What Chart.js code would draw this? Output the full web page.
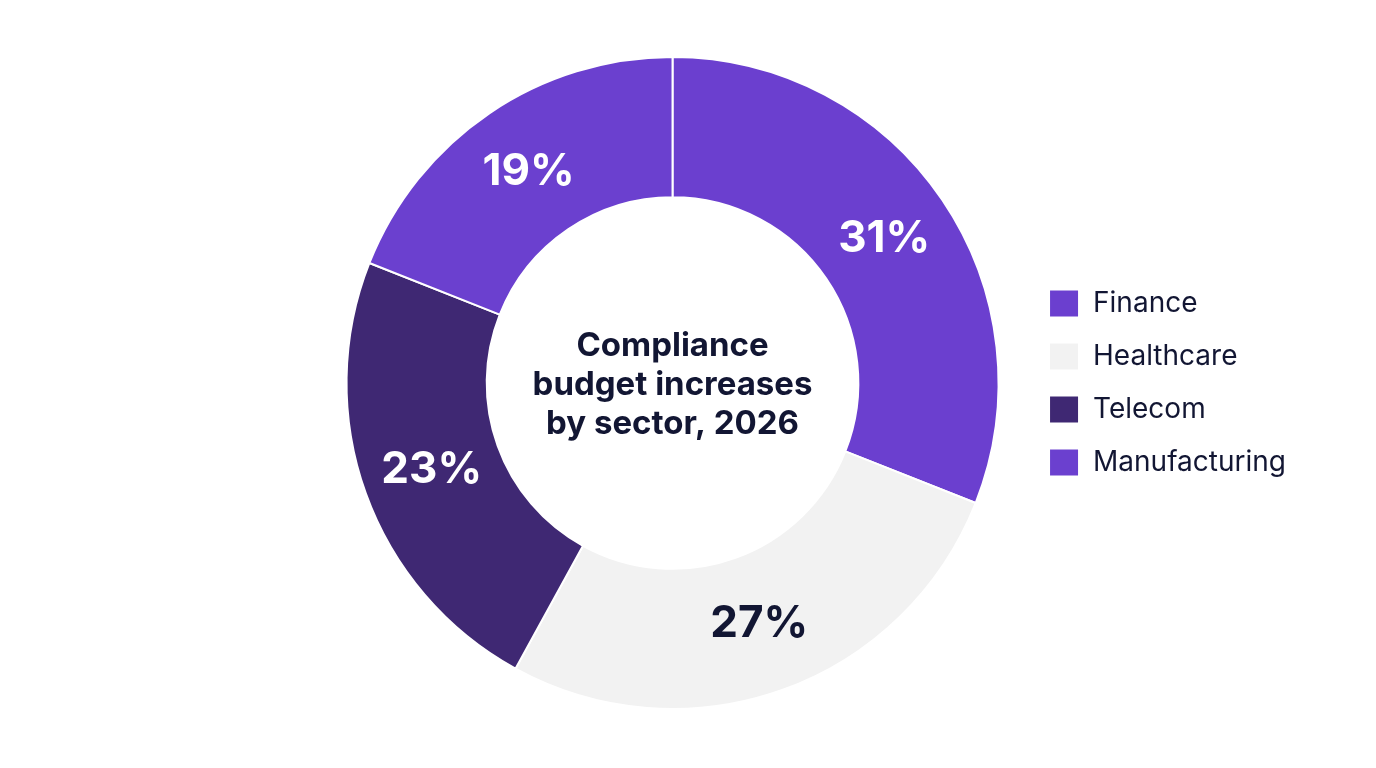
<!DOCTYPE html>
<html>
<head>
<meta charset="utf-8">
<script src="https://cdn.jsdelivr.net/npm/chart.js@4"></script>
<style>
  html, body { margin: 0; padding: 0; background: #ffffff; }
  #wrap { width: 1376px; height: 768px; position: relative; }
</style>
</head>
<body>
<div id="wrap"><canvas id="chart"></canvas></div>
<script>
const sectors = ['Finance', 'Healthcare', 'Telecom', 'Manufacturing'];
const increases = [31, 27, 23, 19];
const sliceColors = ['#6B3FCF', '#F2F2F2', '#3F2873', '#6B40CF'];
const labelColors = ['#ffffff', '#121633', '#ffffff', '#ffffff'];
const centerLines = ['Compliance', 'budget increases', 'by sector, 2026'];

const FONT = "Inter, 'Noto Sans', sans-serif";
const INK = '#121633';

// percent labels on each slice
const sliceLabels = {
  id: 'sliceLabels',
  afterDatasetsDraw(chart) {
    const { ctx } = chart;
    const meta = chart.getDatasetMeta(0);
    ctx.save();
    ctx.font = `bold 44px ${FONT}`;
    ctx.textAlign = 'center';
    ctx.textBaseline = 'middle';
    meta.data.forEach((arc, i) => {
      const p = arc.tooltipPosition();
      ctx.fillStyle = labelColors[i];
      ctx.fillText(increases[i] + '%', p.x, p.y);
    });
    ctx.restore();
  }
};

// title in the hole
const centerTitle = {
  id: 'centerTitle',
  afterDraw(chart) {
    const { ctx } = chart;
    const arc = chart.getDatasetMeta(0).data[0];
    if (!arc) return;
    ctx.save();
    ctx.font = `bold 33px ${FONT}`;
    ctx.fillStyle = INK;
    ctx.textAlign = 'center';
    ctx.textBaseline = 'middle';
    const lh = 39;
    const y0 = arc.y + 2 - lh * (centerLines.length - 1) / 2;
    centerLines.forEach((t, i) => ctx.fillText(t, arc.x, y0 + i * lh));
    ctx.restore();
  }
};

new Chart(document.getElementById('chart'), {
  type: 'doughnut',
  data: {
    labels: sectors,
    datasets: [{
      data: increases,
      backgroundColor: sliceColors,
      borderColor: '#ffffff',
      borderWidth: 2,
      hoverOffset: 0,
    }],
  },
  options: {
    responsive: true,
    maintainAspectRatio: false,
    animation: false,
    cutout: '57%',
    layout: { padding: { left: 321, right: 80, top: 56, bottom: 58 } },
    plugins: {
      legend: {
        position: 'right',
        labels: {
          boxWidth: 30,
          boxHeight: 28,
          padding: 25,
          color: INK,
          font: { family: FONT, size: 28 },
        },
      },
      tooltip: { enabled: false },
    },
  },
  plugins: [sliceLabels, centerTitle],
});
</script>
</body>
</html>
